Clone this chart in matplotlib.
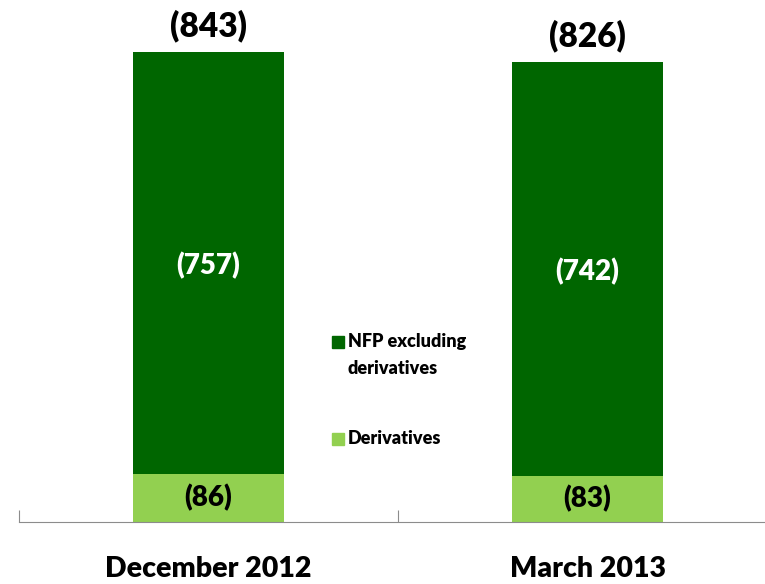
import matplotlib
matplotlib.use("Agg")
import matplotlib.pyplot as plt
from matplotlib.patches import Rectangle

categories = ["December 2012", "March 2013"]
derivatives = [86, 83]
nfp_ex_derivatives = [757, 742]
totals = [843, 826]
series_names = ["NFP excluding\nderivatives", "Derivatives"]

DARK = "#006600"
LIGHT = "#92D050"
WEIGHT = 800

plt.rcParams["font.family"] = ["Lato", "DejaVu Sans"]

W, H = 765, 584
fig = plt.figure(figsize=(W / 100, H / 100), dpi=100)
ax = fig.add_axes([19 / W, (H - 522) / H, 758 / W, 502 / H])
ax.set_xlim(-0.5, 1.5)
ax.set_ylim(0, 502 / 0.5575)

x = range(len(categories))
ax.bar(x, derivatives, width=0.4, color=LIGHT, zorder=2)
ax.bar(x, nfp_ex_derivatives, width=0.4, bottom=derivatives, color=DARK, zorder=2)

for i in x:
    d, n = derivatives[i], nfp_ex_derivatives[i]
    ax.text(i, d / 2, f"({d})", ha="center", va="center", fontsize=20,
            fontweight=WEIGHT, color="black", zorder=3)
    ax.annotate(f"({n})", (i, d + n / 2), xytext=(0, -3), textcoords="offset pixels",
                ha="center", va="center", fontsize=20, fontweight=WEIGHT,
                color="white", zorder=3)
    ax.annotate(f"({totals[i]})", (i, d + n), xytext=(0, 26), textcoords="offset pixels",
                ha="center", va="center", fontsize=24, fontweight=WEIGHT)

for s in ["top", "right", "left"]:
    ax.spines[s].set_visible(False)
ax.spines["bottom"].set_color("#8c8c8c")
ax.set_yticks([])
ax.set_xticks([-0.5, 0.5, 1.5])
ax.set_xticklabels([])
ax.tick_params(axis="x", direction="in", length=9, color="#8c8c8c")
for i, c in enumerate(categories):
    ax.annotate(c, (i, 0), xytext=(0, -47), textcoords="offset pixels",
                ha="center", va="center", fontsize=20.5, fontweight=WEIGHT)

# legend drawn by hand so the swatch sits beside the first line
sq = 12
legend_rows = [(342, DARK, series_names[0]), (439, LIGHT, series_names[1])]
for ypx, col, lab in legend_rows:
    fig.patches.append(Rectangle((332 / W, (H - ypx - sq / 2) / H), sq / W, sq / H,
                                 transform=fig.transFigure, color=col))
    for k, line in enumerate(lab.split("\n")):
        fig.text(348 / W, (H - ypx - 27 * k) / H, line, ha="left", va="center",
                 fontsize=13, fontweight=WEIGHT)

fig.savefig("out.png", dpi=100)
